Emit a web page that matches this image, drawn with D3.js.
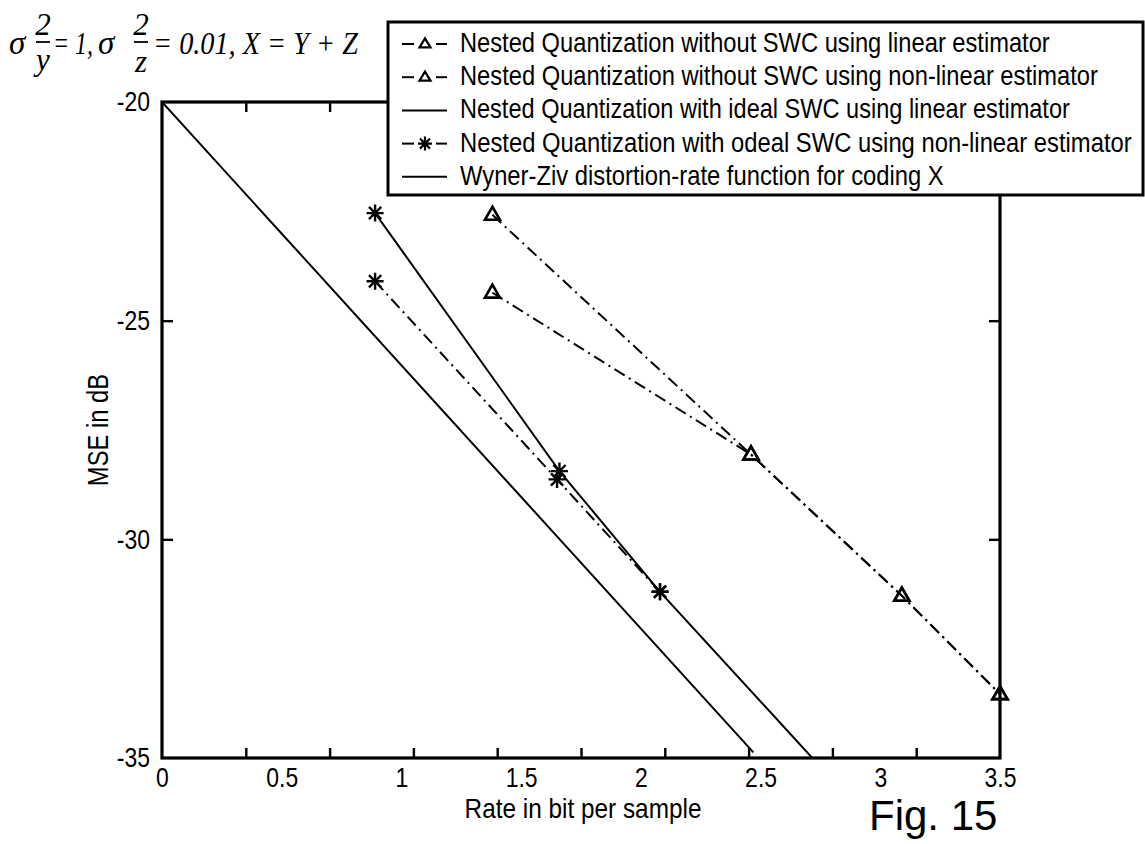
<!DOCTYPE html>
<html>
<head>
<meta charset="utf-8">
<script src="https://cdn.jsdelivr.net/npm/d3@7"></script>
<style>
  html, body { margin: 0; padding: 0; background: #fff; }
  svg { display: block; }
</style>
</head>
<body>
<svg id="chart" width="1145" height="844"></svg>
<script>
// ---------------- data ----------------
const rateLinNoSWC     = [1.38, 2.46, 3.09, 3.50];
const mseLinNoSWC      = [-22.58, -28.06, -31.29, -33.54];
const rateNonlinNoSWC  = [1.38, 2.46, 3.09, 3.50];
const mseNonlinNoSWC   = [-24.36, -28.06, -31.29, -33.54];
const rateLinIdeal     = [0.89, 1.66, 2.08, 2.80];
const mseLinIdeal      = [-22.54, -28.44, -31.20, -35.50];
const rateNonlinIdeal  = [0.89, 1.65, 2.08];
const mseNonlinIdeal   = [-24.10, -28.63, -31.20];
const rateWZ           = [0, 2.47];
const mseWZ            = [-20, -34.87];

const xTickLabels = [0, 0.5, 1, 1.5, 2, 2.5, 3, 3.5];
const xTickMarks  = [0.35, 0.7, 1.05, 1.4, 1.75, 2.1, 2.45, 2.8, 3.15];
const yTickLabels = [-35, -30, -25, -20];
const yTickMarks  = [-30, -25];

const legendLabels = [
  "Nested Quantization without SWC using linear estimator",
  "Nested Quantization without SWC using non-linear estimator",
  "Nested Quantization with ideal SWC using linear estimator",
  "Nested Quantization with odeal SWC using non-linear estimator",
  "Wyner-Ziv distortion-rate function for coding X"
];
const xLabel = "Rate in bit per sample";
const yLabel = "MSE in dB";
const figLabel = "Fig. 15";

// ---------------- layout ----------------
const L = 162, R = 1000, T = 102, B = 758;
const svg = d3.select("#chart");
const x = d3.scaleLinear().domain([0, 3.5]).range([L, R]);
const y = d3.scaleLinear().domain([-35, -20]).range([B, T]);

const NARROW = "'Liberation Sans Narrow', 'Arial Narrow', 'Liberation Sans', Arial, sans-serif";
let narrowOK = false;
(function () {
  const t1 = svg.append("text").attr("font-family", "'Liberation Sans Narrow', 'Liberation Sans'").attr("font-size", 40).text("Nested Quantization");
  const t2 = svg.append("text").attr("font-family", "'Liberation Sans'").attr("font-size", 40).text("Nested Quantization");
  const w1 = t1.node().getComputedTextLength(), w2 = t2.node().getComputedTextLength();
  narrowOK = w1 < w2 * 0.93;
  t1.remove(); t2.remove();
})();
const SQ = narrowOK ? 1 : 0.82;
function squeeze(sel) {
  sel.each(function () {
    if (SQ === 1) return;
    const ax = +(this.getAttribute("x") || 0);
    this.setAttribute("transform", `translate(${ax},0) scale(${SQ},1) translate(${-ax},0)`);
  });
}
function fitText(parent, px, py, str, width, attrs) {
  const g = parent.append("g").attr("transform", `translate(${px},${py})`);
  const t = g.append("text").attr("x", 0).attr("y", 0).text(str);
  Object.entries(attrs).forEach(([k, v]) => t.attr(k, v));
  const w = t.node().getComputedTextLength();
  g.attr("transform", `translate(${px},${py}) scale(${width / w},1)`);
  return t;
}
const fmt = d => String(d);

svg.append("rect").attr("width", 1145).attr("height", 844).attr("fill", "#fff");

svg.append("defs").append("clipPath").attr("id", "plotclip")
  .append("rect").attr("x", L).attr("y", T).attr("width", R - L).attr("height", B - T);

const zip = (a, b) => a.map((v, i) => [v, b[i]]);
const line = d3.line().x(d => x(d[0])).y(d => y(d[1]));
const DASHDOT = "12,5,2,5";

const series = [
  { pts: zip(rateLinNoSWC, mseLinNoSWC), dash: DASHDOT, marker: "tri", legendMarker: "tri" },
  { pts: zip(rateNonlinNoSWC, mseNonlinNoSWC), dash: DASHDOT, marker: "tri", legendMarker: "tri" },
  { pts: zip(rateLinIdeal, mseLinIdeal), dash: null, marker: "star", legendMarker: null },
  { pts: zip(rateNonlinIdeal, mseNonlinIdeal), dash: DASHDOT, marker: "star", legendMarker: "star" },
  { pts: zip(rateWZ, mseWZ), dash: null, marker: null, legendMarker: null }
];

function triPath(w, h) {
  return `M0,${-h * 0.62}L${w / 2},${h * 0.38}L${-w / 2},${h * 0.38}Z`;
}
function starPath(r) {
  const d = r * 0.72;
  return `M${-r},0L${r},0M0,${-r}L0,${r}M${-d},${-d}L${d},${d}M${-d},${d}L${d},${-d}`;
}

const gLines = svg.append("g").attr("clip-path", "url(#plotclip)");
series.forEach(s => {
  gLines.append("path").attr("d", line(s.pts))
    .attr("fill", "none").attr("stroke", "#000").attr("stroke-width", 2)
    .attr("stroke-dasharray", s.dash);
});
const gMarks = svg.append("g");
series.forEach(s => {
  if (!s.marker) return;
  s.pts.filter(p => p[1] >= -35 && p[1] <= -20 && p[0] <= 3.5).forEach(p => {
    gMarks.append("path")
      .attr("transform", `translate(${x(p[0])},${y(p[1])})`)
      .attr("d", s.marker === "tri" ? triPath(15, 13) : starPath(8.5))
      .attr("fill", "none").attr("stroke", "#000")
      .attr("stroke-width", s.marker === "tri" ? 2.6 : 2.4);
  });
});

// ---------------- axes ----------------
const ax = svg.append("g");
const TICKFONT = 28;
ax.append("g").attr("transform", `translate(0,${B})`)
  .call(d3.axisBottom(x).tickValues(xTickMarks).tickSize(-10).tickFormat(""))
  .call(g => g.select(".domain").remove())
  .call(g => g.selectAll("line").attr("stroke", "#000").attr("stroke-width", 2.4));
ax.append("g").attr("transform", `translate(0,${T})`)
  .call(d3.axisTop(x).tickValues(xTickMarks).tickSize(-10).tickFormat(""))
  .call(g => g.select(".domain").remove())
  .call(g => g.selectAll("line").attr("stroke", "#000").attr("stroke-width", 2.4));
ax.append("g").attr("transform", `translate(0,${B})`)
  .call(d3.axisBottom(x).tickValues(xTickLabels).tickSize(0).tickPadding(9).tickFormat(fmt))
  .call(g => g.select(".domain").remove())
  .call(g => g.selectAll("text").attr("font-size", TICKFONT).attr("font-family", NARROW).attr("fill", "#000").call(squeeze));
ax.append("g").attr("transform", `translate(${L},0)`)
  .call(d3.axisLeft(y).tickValues(yTickMarks).tickSize(-11).tickFormat(""))
  .call(g => g.select(".domain").remove())
  .call(g => g.selectAll("line").attr("stroke", "#000").attr("stroke-width", 2.4));
ax.append("g").attr("transform", `translate(${L},0)`)
  .call(d3.axisLeft(y).tickValues(yTickLabels).tickSize(0).tickPadding(12).tickFormat(fmt))
  .call(g => g.select(".domain").remove())
  .call(g => g.selectAll("text").attr("font-size", TICKFONT).attr("font-family", NARROW).attr("fill", "#000").call(squeeze));
ax.append("g").attr("transform", `translate(${R},0)`)
  .call(d3.axisRight(y).tickValues(yTickMarks).tickSize(-11).tickFormat(""))
  .call(g => g.select(".domain").remove())
  .call(g => g.selectAll("line").attr("stroke", "#000").attr("stroke-width", 2.4));

svg.append("rect").attr("x", L).attr("y", T).attr("width", R - L).attr("height", B - T)
  .attr("fill", "none").attr("stroke", "#000").attr("stroke-width", 3.2);

// axis titles
fitText(svg, 583, 818, xLabel, 237, { "font-family": NARROW, "font-size": 28, "text-anchor": "middle" });
svg.append("text").attr("transform", `translate(108,430) rotate(-90) scale(${SQ},1)`).attr("text-anchor", "middle")
  .attr("font-family", NARROW).attr("font-size", 29).text(yLabel);
svg.append("text").attr("x", 869).attr("y", 830)
  .attr("font-family", "'Liberation Sans', Arial, sans-serif").attr("font-size", 42).text(figLabel);

// ---------------- formula ----------------
const F = svg.append("g").attr("font-family", "'Liberation Serif', 'Times New Roman', serif")
  .attr("font-style", "italic").attr("fill", "#000");
F.append("text").attr("x", 9).attr("y", 54).attr("font-size", 33).text("σ");
F.append("text").attr("x", 43).attr("y", 35).attr("font-size", 31).attr("text-anchor", "middle").text("2");
F.append("line").attr("x1", 36).attr("x2", 50).attr("y1", 42).attr("y2", 42).attr("stroke", "#000").attr("stroke-width", 1.8);
F.append("text").attr("x", 43).attr("y", 70).attr("font-size", 31).attr("text-anchor", "middle").text("y");
fitText(F, 53, 54, "= 1,", 40, { "font-size": 31 });
F.append("text").attr("x", 98).attr("y", 54).attr("font-size", 33).text("σ");
F.append("text").attr("x", 141).attr("y", 35).attr("font-size", 31).attr("text-anchor", "middle").text("2");
F.append("line").attr("x1", 134).attr("x2", 148).attr("y1", 42).attr("y2", 42).attr("stroke", "#000").attr("stroke-width", 1.8);
F.append("text").attr("x", 141).attr("y", 72).attr("font-size", 31).attr("text-anchor", "middle").text("z");
fitText(F, 153, 54, "= 0.01, X = Y + Z", 205, { "font-size": 31 });

// ---------------- legend ----------------
const LG = svg.append("g");
LG.append("rect").attr("x", 388).attr("y", 22).attr("width", 755).attr("height", 173)
  .attr("fill", "#fff").attr("stroke", "#000").attr("stroke-width", 3);
const legendWidths = [590, 638, 610, 672, 484];
legendLabels.forEach((lab, i) => {
  const cy = 42 + 33.2 * i;
  const s = series[i];
  const my = cy + 2;
  if (s.legendMarker) {
    LG.append("line").attr("x1", 402).attr("x2", 414).attr("y1", my).attr("y2", my).attr("stroke", "#000").attr("stroke-width", 2);
    LG.append("line").attr("x1", 436).attr("x2", 447).attr("y1", my).attr("y2", my).attr("stroke", "#000").attr("stroke-width", 2);
    LG.append("path").attr("transform", `translate(425,${my})`)
      .attr("d", s.legendMarker === "tri" ? triPath(11, 9) : starPath(7))
      .attr("fill", "none").attr("stroke", "#000").attr("stroke-width", 2.2);
  } else {
    LG.append("line").attr("x1", 402).attr("x2", 447).attr("y1", my).attr("y2", my).attr("stroke", "#000").attr("stroke-width", 2);
  }
  fitText(LG, 460, cy + 10, lab, legendWidths[i], { "font-family": NARROW, "font-size": 27 });
});
</script>
</body>
</html>
